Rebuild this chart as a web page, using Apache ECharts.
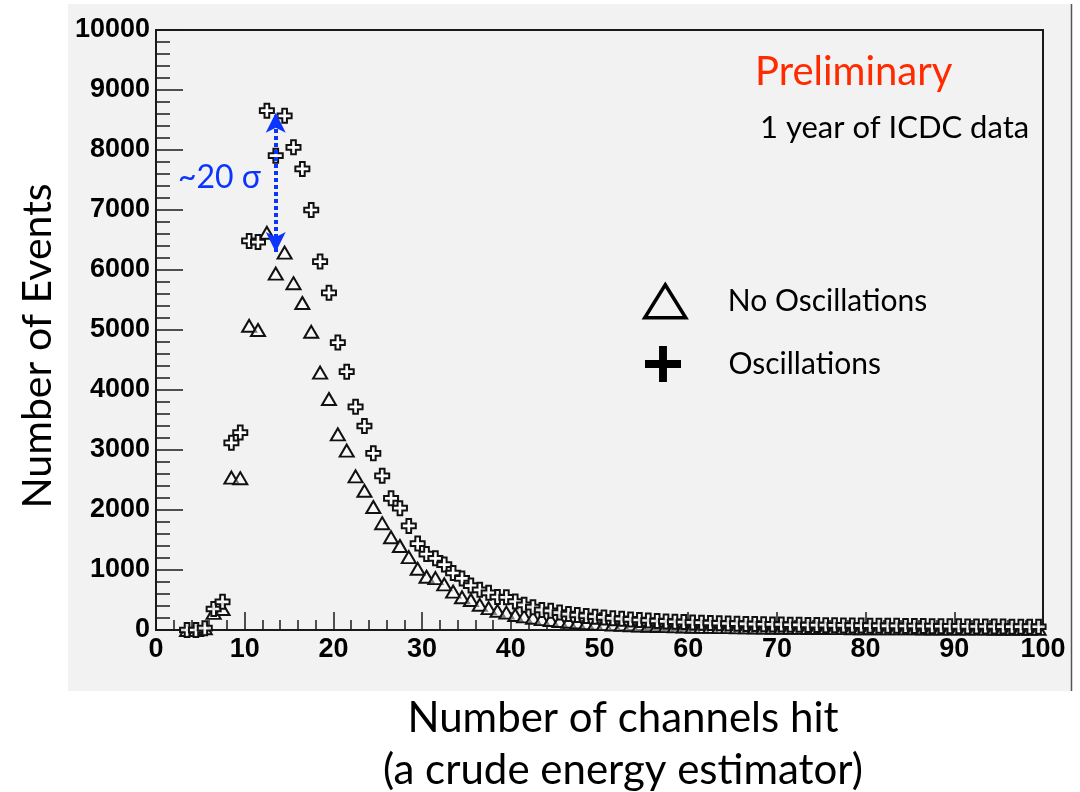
<!DOCTYPE html>
<html>
<head>
<meta charset="utf-8">
<script src="https://cdn.jsdelivr.net/npm/echarts@6/dist/echarts.min.js"></script>
<style>
html,body{margin:0;padding:0;background:#ffffff}
#chart{width:1080px;height:792px}
</style>
</head>
<body>
<div id="chart"></div>
<script>
// Bin centres: number of channels hit
const binCenters = [
  3.5, 4.5, 5.5, 6.5, 7.5, 8.5, 9.5, 10.5, 11.5, 12.5,
  13.5, 14.5, 15.5, 16.5, 17.5, 18.5, 19.5, 20.5, 21.5, 22.5,
  23.5, 24.5, 25.5, 26.5, 27.5, 28.5, 29.5, 30.5, 31.5, 32.5,
  33.5, 34.5, 35.5, 36.5, 37.5, 38.5, 39.5, 40.5, 41.5, 42.5,
  43.5, 44.5, 45.5, 46.5, 47.5, 48.5, 49.5, 50.5, 51.5, 52.5,
  53.5, 54.5, 55.5, 56.5, 57.5, 58.5, 59.5, 60.5, 61.5, 62.5,
  63.5, 64.5, 65.5, 66.5, 67.5, 68.5, 69.5, 70.5, 71.5, 72.5,
  73.5, 74.5, 75.5, 76.5, 77.5, 78.5, 79.5, 80.5, 81.5, 82.5,
  83.5, 84.5, 85.5, 86.5, 87.5, 88.5, 89.5, 90.5, 91.5, 92.5,
  93.5, 94.5, 95.5, 96.5, 97.5, 98.5, 99.5
];

// Expected events per bin without oscillations
const noOscillations = [
  0, 0, 30, 285, 350, 2540, 2530, 5070, 5000, 6620,
  5940, 6290, 5780, 5450, 4970, 4290, 3850, 3260, 2990, 2560,
  2320, 2050, 1780, 1545, 1400, 1215, 1020, 888, 865, 760,
  640, 545, 500, 420, 365, 320, 290, 250, 228, 205,
  182, 166, 150, 138, 126, 113, 104, 97, 90, 85,
  80, 74, 71, 66, 64, 60, 58, 55, 52, 51,
  48, 47, 44, 43, 41, 40, 38, 37, 36, 35,
  34, 33, 33, 32, 31, 30, 30, 29, 28, 28,
  27, 26, 26, 25, 25, 24, 24, 23, 23, 22,
  22, 21, 21, 20, 20, 20, 19
];

// Expected events per bin with oscillations
const oscillations = [
  0, 0, 30, 350, 470, 3120, 3290, 6485, 6465, 8655,
  7905, 8570, 8045, 7685, 7000, 6140, 5620, 4790, 4305, 3720,
  3400, 2945, 2570, 2195, 2030, 1735, 1440, 1265, 1195, 1090,
  950, 860, 740, 670, 620, 550, 545, 475, 420, 380,
  335, 320, 290, 265, 250, 235, 222, 210, 195, 186,
  176, 166, 158, 150, 143, 138, 132, 127, 122, 117,
  113, 109, 106, 102, 99, 96, 93, 91, 88, 86,
  84, 82, 80, 78, 77, 75, 74, 72, 71, 70,
  69, 67, 66, 65, 64, 63, 62, 61, 60, 59,
  58, 58, 57, 56, 55, 55, 54
];

// Separation arrow between the two peaks (x, lower tip, upper tip)
const sigmaArrow = [13.5, 6300, 8620];

const seriesNames = ['No Oscillations', 'Oscillations'];

const openCross = 'path://M1,0H2V1H3V2H2V3H1V2H0V1H1Z';
const solidPlus = 'path://M3.9,0H6.1V3.9H10V6.1H6.1V10H3.9V6.1H0V3.9H3.9Z';

const toPoints = (vals) => binCenters.map((x, i) => [x, vals[i]]);

const tickFont = {
  fontFamily: '"Liberation Sans", Arial, Helvetica, sans-serif',
  fontWeight: 'bold',
  fontSize: 27,
  color: '#000',
  formatter: (v) => String(v)
};
const textFont = 'Lato, "Open Sans", sans-serif';

const chart = echarts.init(document.getElementById('chart'), null, { renderer: 'canvas' });

chart.setOption({
  animation: false,
  backgroundColor: '#ffffff',
  grid: {
    left: 156, top: 30, width: 887, height: 600,
    show: true,
    backgroundColor: '#f2f2f2',
    borderColor: '#1a1a1a',
    borderWidth: 2
  },
  xAxis: {
    type: 'value',
    min: 0, max: 100, interval: 10,
    splitLine: { show: false },
    axisLine: { show: true, onZero: false, lineStyle: { color: '#1a1a1a', width: 2 } },
    axisTick: { show: true, inside: true, length: 18, lineStyle: { color: '#1a1a1a', width: 1.5 } },
    minorTick: { show: true, splitNumber: 5, length: 10, lineStyle: { color: '#1a1a1a', width: 1.5 } },
    axisLabel: Object.assign({ margin: 6 }, tickFont)
  },
  yAxis: {
    type: 'value',
    min: 0, max: 10000, interval: 1000,
    splitLine: { show: false },
    axisLine: { show: true, onZero: false, lineStyle: { color: '#1a1a1a', width: 2 } },
    axisTick: { show: true, inside: true, length: 27, lineStyle: { color: '#1a1a1a', width: 1.5 } },
    minorTick: { show: true, splitNumber: 5, length: 14, lineStyle: { color: '#1a1a1a', width: 1.5 } },
    axisLabel: Object.assign({ margin: 6 }, tickFont)
  },
  legend: [
    {
      left: 643, top: 283, padding: 0,
      itemWidth: 41, itemHeight: 33,
      selectedMode: false,
      data: [{
        name: seriesNames[0], icon: 'triangle',
        itemStyle: { color: 'rgba(0,0,0,0)', borderColor: '#000', borderWidth: 3.5 }
      }],
      textStyle: { fontFamily: textFont, fontSize: 30, color: '#000', padding: [0, 0, 0, 37] }
    },
    {
      left: 645, top: 346, padding: 0,
      itemWidth: 37, itemHeight: 36,
      selectedMode: false,
      data: [{
        name: seriesNames[1], icon: solidPlus,
        itemStyle: { color: '#000', borderWidth: 0 }
      }],
      textStyle: { fontFamily: textFont, fontSize: 30, color: '#000', padding: [0, 0, 0, 42] }
    }
  ],
  series: [
    {
      name: seriesNames[0],
      type: 'scatter',
      data: toPoints(noOscillations),
      symbol: 'triangle',
      symbolSize: [14, 12],
      itemStyle: { color: 'rgba(255,255,255,0.45)', borderColor: '#111', borderWidth: 2, opacity: 1 },
      z: 2
    },
    {
      name: seriesNames[1],
      type: 'scatter',
      data: toPoints(oscillations),
      symbol: openCross,
      symbolSize: 14,
      itemStyle: { color: 'rgba(255,255,255,0.85)', borderColor: '#111', borderWidth: 2, opacity: 1 },
      z: 3,
      markLine: {
        silent: true,
        symbol: ['arrow', 'arrow'],
        symbolSize: [15, 20],
        label: { show: false },
        lineStyle: { color: '#0b35ff', width: 4, type: [4, 3] },
        data: [[
          { coord: [sigmaArrow[0], sigmaArrow[1]] },
          { coord: [sigmaArrow[0], sigmaArrow[2]] }
        ]],
        z: 5
      }
    }
  ],
  graphic: {
    elements: [
      {
        type: 'rect', z: -100, silent: true,
        shape: { x: 68, y: 4, width: 1003, height: 687 },
        style: { fill: '#f2f2f2' }
      },
      {
        type: 'line', z: -99, silent: true,
        shape: { x1: 1071.5, y1: 4, x2: 1071.5, y2: 691 },
        style: { stroke: '#555', lineWidth: 1.5 }
      },
      {
        type: 'text', left: 755, top: 52, silent: true,
        style: { text: 'Preliminary', fill: '#ff2a00', font: '40px ' + textFont }
      },
      {
        type: 'text', left: 760, top: 112, silent: true,
        style: { text: '1 year of ICDC data', fill: '#000', font: '31px ' + textFont }
      },
      {
        type: 'text', left: 178, top: 162, silent: true,
        style: { text: '~20 σ', fill: '#0b35ff', font: '32px ' + textFont }
      },
      {
        type: 'text', silent: true,
        x: 623, y: 718,
        style: { text: 'Number of channels hit', fill: '#000', font: '42px ' + textFont, align: 'center', verticalAlign: 'middle' }
      },
      {
        type: 'text', silent: true,
        x: 623, y: 770,
        style: { text: '(a crude energy estimator)', fill: '#000', font: '42px ' + textFont, align: 'center', verticalAlign: 'middle' }
      },
      {
        type: 'text', silent: true,
        x: 38, y: 346, rotation: Math.PI / 2,
        style: { text: 'Number of Events', fill: '#000', font: '41px ' + textFont, align: 'center', verticalAlign: 'middle' }
      }
    ]
  }
});
</script>
</body>
</html>
